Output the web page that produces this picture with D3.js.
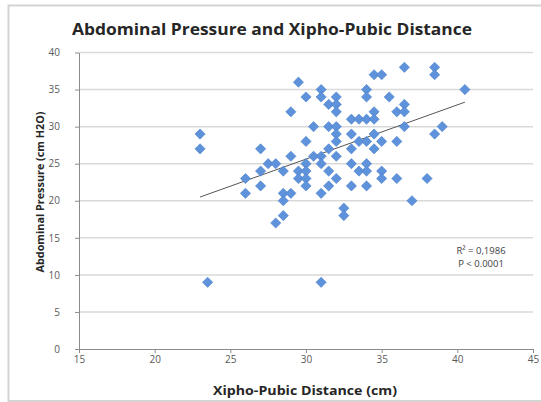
<!DOCTYPE html>
<html>
<head>
<meta charset="utf-8">
<script src="https://cdn.jsdelivr.net/npm/d3@7"></script>
<style>
  html, body { margin: 0; padding: 0; background: #fff; }
  svg { display: block; }
</style>
</head>
<body>
<svg id="chart" width="541" height="402"></svg>
<script>
// ---- data ----
const distance = [
  23, 23, 23.5, 26, 26, 27, 27, 27, 27.5, 28,
  28, 28.5, 28.5, 28.5, 28.5, 29, 29, 29, 29.5, 29.5,
  29.5, 30, 30, 30, 30, 30, 30, 30.5, 30.5, 31,
  31, 31, 31, 31, 31, 31.5, 31.5, 31.5, 31.5, 31.5,
  32, 32, 32, 32, 32, 32, 32, 32, 32.5, 32.5,
  33, 33, 33, 33, 33, 33.5, 33.5, 33.5, 34, 34,
  34, 34, 34, 34, 34, 34.5, 34.5, 34.5, 34.5, 34.5,
  35, 35, 35, 35, 35.5, 36, 36, 36, 36.5, 36.5,
  36.5, 36.5, 37, 38, 38.5, 38.5, 38.5, 39, 40.5
];
const pressure = [
  29, 27, 9, 23, 21, 27, 24, 22, 25, 25,
  17, 24, 21, 20, 18, 32, 26, 21, 36, 24,
  23, 34, 28, 25, 24, 23, 22, 30, 26, 35,
  34, 26, 25, 21, 9, 33, 30, 27, 24, 22,
  34, 33, 32, 30, 29, 28, 26, 23, 19, 18,
  31, 29, 27, 25, 22, 31, 28, 24, 35, 34,
  31, 28, 25, 24, 22, 37, 32, 31, 29, 27,
  37, 28, 24, 23, 34, 32, 28, 23, 38, 33,
  32, 30, 20, 23, 38, 37, 29, 30, 35
];
const trendX = [23, 40.5];
const trendY = [20.5, 33.3];
const xTicks = [15, 20, 25, 30, 35, 40, 45];
const yTicks = [0, 5, 10, 15, 20, 25, 30, 35, 40];
const titleText = "Abdominal Pressure and Xipho-Pubic Distance";
const xTitle = "Xipho-Pubic Distance (cm)";
const yTitle = "Abdominal Pressure (cm H2O)";
const statLines = ["R\u00B2 = 0,1986", "P < 0.0001"];

// ---- drawing ----
const svg = d3.select("#chart");
const plot = { left: 79, right: 533, top: 52.5, bottom: 349 };

const x = d3.scaleLinear().domain([15, 45]).range([plot.left, plot.right]);
const y = d3.scaleLinear().domain([0, 40]).range([plot.bottom, plot.top]);

// outer chart frame
svg.append("rect")
  .attr("x", 8.5).attr("y", 5.5)
  .attr("width", 540).attr("height", 395.5)
  .attr("fill", "#fff")
  .attr("stroke", "#d4d4d4")
  .attr("stroke-width", 2);

// gridlines
svg.append("g")
  .selectAll("line")
  .data(yTicks.filter(d => d > 0))
  .join("line")
  .attr("x1", plot.left).attr("x2", plot.right)
  .attr("y1", d => y(d)).attr("y2", d => y(d))
  .attr("stroke", "#d9d9d9")
  .attr("stroke-width", 1.5);

// axes
const tickFont = "'Open Sans', 'DejaVu Sans', sans-serif";
const yAxis = svg.append("g")
  .attr("transform", `translate(${plot.left},0)`)
  .call(d3.axisLeft(y).tickValues(yTicks).tickSize(4).tickPadding(15).tickSizeOuter(0));
const xAxis = svg.append("g")
  .attr("transform", `translate(0,${plot.bottom})`)
  .call(d3.axisBottom(x).tickValues(xTicks).tickSize(4).tickPadding(3).tickSizeOuter(0));

[yAxis, xAxis].forEach(g => {
  g.select(".domain").attr("stroke", "#8c8c8c").attr("stroke-width", 1);
  g.selectAll(".tick line").attr("stroke", "#8c8c8c");
  g.selectAll(".tick text")
    .attr("fill", "#595959")
    .style("font-family", tickFont)
    .style("font-size", "10px");
});

// trend line
svg.append("line")
  .attr("x1", x(trendX[0])).attr("y1", y(trendY[0]))
  .attr("x2", x(trendX[1])).attr("y2", y(trendY[1]))
  .attr("stroke", "#555")
  .attr("stroke-width", 1);

// markers (diamonds)
const pts = distance.map((d, i) => ({ x: d, y: pressure[i] }));
const diamond = d3.symbol().type(d3.symbolSquare).size(52);
svg.append("g")
  .selectAll("path")
  .data(pts)
  .join("path")
  .attr("d", diamond)
  .attr("transform", d => `translate(${x(d.x)},${y(d.y)}) rotate(45)`)
  .attr("fill", "#5e92da")
  .attr("stroke", "#4d82cc")
  .attr("stroke-width", 0.6);

// title
svg.append("text")
  .attr("x", 272).attr("y", 35)
  .attr("text-anchor", "middle")
  .attr("textLength", 400)
  .attr("lengthAdjust", "spacingAndGlyphs")
  .style("font-family", "'Open Sans', 'DejaVu Sans', sans-serif")
  .style("font-weight", "bold")
  .style("font-size", "16px")
  .attr("fill", "#262626")
  .text(titleText);

// x axis title
svg.append("text")
  .attr("x", 305).attr("y", 395)
  .attr("text-anchor", "middle")
  .attr("textLength", 184)
  .attr("lengthAdjust", "spacingAndGlyphs")
  .style("font-family", "'Open Sans', 'DejaVu Sans', sans-serif")
  .style("font-weight", "bold")
  .style("font-size", "12px")
  .attr("fill", "#262626")
  .text(xTitle);

// y axis title
svg.append("text")
  .attr("transform", "translate(44,192) rotate(-90)")
  .attr("text-anchor", "middle")
  .attr("textLength", 161)
  .attr("lengthAdjust", "spacingAndGlyphs")
  .style("font-family", "'Open Sans', 'DejaVu Sans', sans-serif")
  .style("font-weight", "bold")
  .style("font-size", "11px")
  .attr("fill", "#262626")
  .text(yTitle);

// statistics annotation
svg.append("g")
  .selectAll("text")
  .data(statLines)
  .join("text")
  .attr("x", 481)
  .attr("y", (d, i) => 254 + i * 13)
  .attr("text-anchor", "middle")
  .style("font-family", "'Open Sans', 'DejaVu Sans', sans-serif")
  .style("font-size", "9.5px")
  .attr("fill", "#404040")
  .text(d => d);
</script>
</body>
</html>
